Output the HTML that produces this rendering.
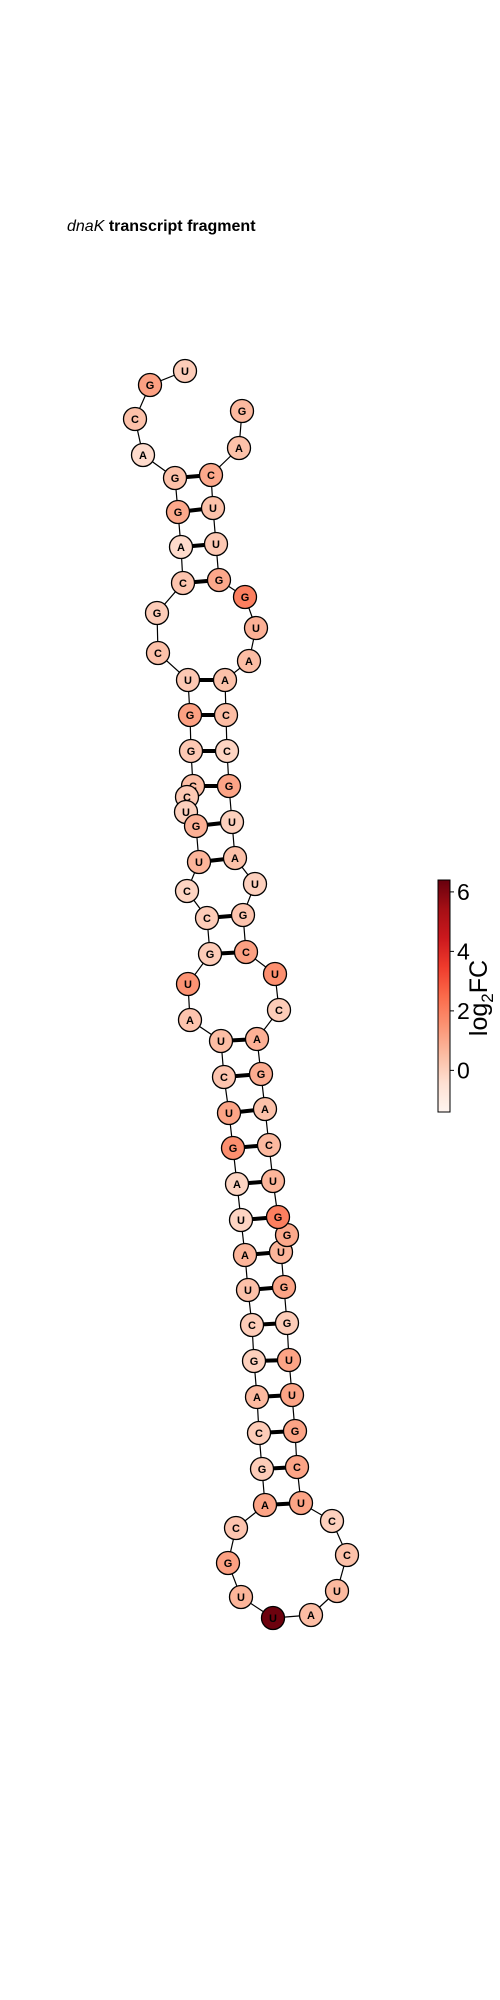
<!DOCTYPE html>
<html><head><meta charset="utf-8"><style>
body{margin:0;background:#fff}
svg{display:block}
text{font-family:"Liberation Sans",sans-serif}
</style></head><body>
<svg id="c" width="500" height="2000" viewBox="0 0 500 2000">
<text x="67" y="231" font-size="16" font-weight="bold"><tspan font-style="italic" font-weight="normal">dnaK</tspan> transcript fragment</text>
<g id="bonds"></g><g id="backbone"></g><g id="nodes"></g>
<defs><linearGradient id="reds" x1="0" y1="1" x2="0" y2="0">
<stop offset="0" stop-color="#fff5f0"/><stop offset="0.125" stop-color="#fee0d2"/><stop offset="0.25" stop-color="#fcbba1"/><stop offset="0.375" stop-color="#fc9272"/><stop offset="0.5" stop-color="#fb6a4a"/><stop offset="0.625" stop-color="#ef3b2c"/><stop offset="0.75" stop-color="#cb181d"/><stop offset="0.875" stop-color="#a50f15"/><stop offset="1" stop-color="#67000d"/></linearGradient></defs>
<rect x="438" y="880" width="12" height="232" fill="url(#reds)" stroke="#000" stroke-width="1"/>
<g id="cbticks"></g>
<text transform="translate(487,998) rotate(-90)" text-anchor="middle" font-size="25">log<tspan font-size="17" dy="6">2</tspan><tspan dy="-6">FC</tspan></text>
</svg>
<script>
const bases=["U","G","C","A","G","G","A","C","G","C","U","G","G","C","C","U","G","U","C","C","G","U","A","U","C","U","G","A","U","A","U","C","G","A","C","G","A","C","G","U","U","A","U","C","C","U","C","G","U","U","G","G","U","G","G","U","C","A","G","A","C","U","C","G","U","A","U","G","C","C","A","A","U","G","G","U","U","C","A","G"];
const log2fc=[0.1,1.2,0.4,-0.3,0.4,1.0,-0.3,0.3,0.1,0.4,0.2,1.2,0.2,0.5,0.2,0.0,0.8,0.7,-0.1,0.1,0.1,1.5,0.3,0.5,0.3,1.1,1.6,-0.1,-0.1,0.7,0.4,0.1,0.0,0.6,0.1,0.1,1.1,0.3,1.2,0.7,6.3,0.5,0.6,0.4,0.0,1.1,1.1,1.1,1.1,1.1,0.1,1.1,0.7,1.0,2.0,0.7,0.6,0.4,0.9,0.8,0.1,1.6,1.2,0.3,0.0,0.4,0.0,1.1,-0.1,0.5,0.4,0.5,0.8,2.0,1.0,0.2,0.4,1.0,0.4,0.6];
const posX=[185,150,135,143,175,178,181,183,157,158,188,190,191,193,187,186,196,199,187,207,210,188,190,221,224,229,233,237,241,245,248,252,254,257,259,262,265,236,228,241,273,311,337,347,332,301,297,295,292,289,287,284,281,287,278,273,269,265,261,257,279,275,246,243,255,235,232,229,227,226,225,249,256,245,219,216,213,211,239,242];
const posY=[371,385,419,455,478,512,547,583,613,653,680,715,751,786,797,812,826,862,891,918,954,984,1020,1041,1077,1113,1148,1184,1220,1255,1290,1325,1361,1397,1433,1469,1505,1528,1563,1597,1618,1615,1591,1555,1521,1503,1467,1431,1395,1360,1323,1287,1252,1235,1217,1181,1145,1109,1074,1039,1010,974,952,915,884,858,822,786,751,715,680,661,628,597,580,544,508,475,448,411];
const pairs=[[4,77],[5,76],[6,75],[7,74],[10,70],[11,69],[12,68],[13,67],[16,66],[17,65],[19,63],[20,62],[23,59],[24,58],[25,57],[26,56],[27,55],[28,54],[29,52],[30,51],[31,50],[32,49],[33,48],[34,47],[35,46],[36,45]];
const cbTicks=[6,4,2,0];
const vmin=-1.4,vmax=6.4;
const stops=["#fff5f0","#fee0d2","#fcbba1","#fc9272","#fb6a4a","#ef3b2c","#cb181d","#a50f15","#67000d"];
function hx(c){return [1,3,5].map(i=>parseInt(c.substr(i,2),16));}
function color(v){let t=Math.max(0,Math.min(1,(v-vmin)/(vmax-vmin)))*8;let i=Math.min(7,Math.floor(t)),f=t-i;const a=hx(stops[i]),b=hx(stops[i+1]);return "rgb("+a.map((x,k)=>Math.round(x+(b[k]-x)*f)).join(",")+")";}
const NS="http://www.w3.org/2000/svg";
const cbY=v=>1112-(v-vmin)/(vmax-vmin)*232;
const bonds=document.getElementById("bonds"),bb=document.getElementById("backbone"),nodes=document.getElementById("nodes"),ct=document.getElementById("cbticks");
pairs.forEach(p=>{const l=document.createElementNS(NS,"line");
l.setAttribute("x1",posX[p[0]]);l.setAttribute("y1",posY[p[0]]);l.setAttribute("x2",posX[p[1]]);l.setAttribute("y2",posY[p[1]]);
l.setAttribute("stroke","#000");l.setAttribute("stroke-width","4");


bonds.appendChild(l);});
const pl=document.createElementNS(NS,"polyline");
pl.setAttribute("points",posX.map((x,i)=>x+","+posY[i]).join(" "));
pl.setAttribute("fill","none");pl.setAttribute("stroke","#000");pl.setAttribute("stroke-width","1.2");


bb.appendChild(pl);
bases.forEach((b,i)=>{const g=document.createElementNS(NS,"g");


const c=document.createElementNS(NS,"circle");c.setAttribute("cx",posX[i]);c.setAttribute("cy",posY[i]);c.setAttribute("r","11.5");
c.setAttribute("fill",color(log2fc[i]));c.setAttribute("stroke","#000");c.setAttribute("stroke-width","1.3");
const t=document.createElementNS(NS,"text");t.setAttribute("x",posX[i]);t.setAttribute("y",posY[i]+4);t.setAttribute("text-anchor","middle");
t.setAttribute("font-size","11");t.setAttribute("font-weight","bold");t.textContent=b;
g.appendChild(c);g.appendChild(t);nodes.appendChild(g);});
cbTicks.forEach(v=>{const y=cbY(v);const l=document.createElementNS(NS,"line");
l.setAttribute("x1",450);l.setAttribute("x2",454);l.setAttribute("y1",y);l.setAttribute("y2",y);l.setAttribute("stroke","#000");


ct.appendChild(l);
const t=document.createElementNS(NS,"text");t.setAttribute("x",457);t.setAttribute("y",y+8);t.setAttribute("font-size","23");t.textContent=v;


ct.appendChild(t);});
</script>
</body></html>
